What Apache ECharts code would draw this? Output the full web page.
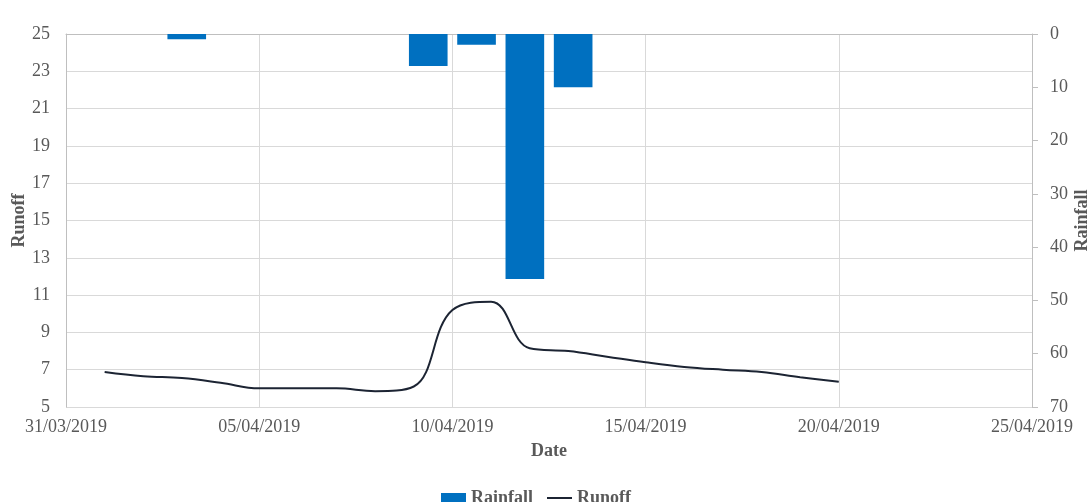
<!DOCTYPE html>
<html>
<head>
<meta charset="utf-8">
<script src="https://cdn.jsdelivr.net/npm/echarts@6/dist/echarts.min.js"></script>
<style>
html,body{margin:0;padding:0;background:#fff;}
#chart{width:1089px;height:502px;}
</style>
</head>
<body>
<div id="chart"></div>
<script>
// ---- data ----
const axisStart = '31/03/2019';
const axisEnd = '25/04/2019';
const dayStep = 5;
const runoffDates = ['01/04/2019','02/04/2019','03/04/2019','04/04/2019','05/04/2019','06/04/2019','07/04/2019','08/04/2019','09/04/2019','10/04/2019','11/04/2019','12/04/2019','13/04/2019','14/04/2019','15/04/2019','16/04/2019','17/04/2019','18/04/2019','19/04/2019','20/04/2019'];
const runoffValues = [6.88,6.65,6.55,6.3,6.0,6.0,6.0,5.85,6.1,10.2,10.65,8.15,8.0,7.7,7.4,7.15,7.0,6.88,6.6,6.35];
const rainDates = ['01/04','02/04','03/04','04/04','05/04','06/04','07/04','08/04','09/04','10/04','11/04','12/04','13/04','14/04','15/04','16/04','17/04','18/04','19/04','20/04'];
const rainValues = [0,0,1,0,0,0,0,6,2,46,10,0,0,0,0,0,0,0,0,0];
const runoffAxis = {min:5, max:25, interval:2};
const rainAxis = {min:0, max:70, interval:10};

// ---- helpers ----
function parseD(s){const p=s.split('/');return Date.UTC(+p[2],+p[1]-1,+p[0]);}
const t0 = parseD(axisStart);
const DAY = 86400000;
function dayOf(s){return Math.round((parseD(s)-t0)/DAY);}
function fmt(d){const dt=new Date(t0+d*DAY);const dd=String(dt.getUTCDate()).padStart(2,'0');const mm=String(dt.getUTCMonth()+1).padStart(2,'0');return dd+'/'+mm+'/'+dt.getUTCFullYear();}

const FONT = 'Liberation Serif';
const TXT = '#595959';
const chart = echarts.init(document.getElementById('chart'));
chart.setOption({
  animation:false,
  backgroundColor:'#fff',
  textStyle:{fontFamily:FONT},
  grid:{left:66,right:57,top:34,bottom:95,containLabel:false,outerBoundsMode:'none'},
  legend:{
    top:484, left:436,
    itemWidth:25, itemHeight:10, itemGap:13,
    textStyle:{fontFamily:FONT,fontSize:18,fontWeight:'bold',color:TXT},
    data:[{name:'Rainfall',icon:'rect'},{name:'Runoff',itemStyle:{opacity:0},lineStyle:{color:'#1c2433',width:2,opacity:1}}]
  },
  xAxis:[
    {type:'value', min:0, max:dayOf(axisEnd), interval:dayStep,
     name:'Date', nameLocation:'middle', nameGap:35, nameMoveOverlap:false,
     nameTextStyle:{fontFamily:FONT,fontSize:18,fontWeight:'bold',color:TXT},
     axisLine:{show:true,lineStyle:{color:'#bfbfbf'}},
     axisTick:{show:false},
     axisLabel:{color:TXT,fontSize:18,fontFamily:FONT,margin:11,formatter:v=>fmt(v)},
     splitLine:{show:true,lineStyle:{color:'#d9d9d9'}}},
    {type:'category', data:rainDates, boundaryGap:true, show:false, position:'top'}
  ],
  yAxis:[
    {type:'value', min:runoffAxis.min, max:runoffAxis.max, interval:runoffAxis.interval,
     name:'Runoff', nameLocation:'middle', nameGap:38, nameRotate:90, nameMoveOverlap:false,
     nameTextStyle:{fontFamily:FONT,fontSize:18,fontWeight:'bold',color:TXT},
     axisLine:{show:true,lineStyle:{color:'#bfbfbf'}},
     axisTick:{show:false},
     axisLabel:{color:TXT,fontSize:18,fontFamily:FONT,margin:16},
     splitLine:{show:true,lineStyle:{color:'#d9d9d9'}}},
    {type:'value', min:rainAxis.min, max:rainAxis.max, interval:rainAxis.interval, inverse:true,
     position:'right',
     name:'Rainfall', nameLocation:'middle', nameGap:41, nameRotate:90, nameMoveOverlap:false,
     nameTextStyle:{fontFamily:FONT,fontSize:18,fontWeight:'bold',color:TXT},
     axisLine:{show:true,lineStyle:{color:'#bfbfbf'}},
     axisTick:{show:true,length:6,lineStyle:{color:'#bfbfbf'}},
     axisLabel:{color:TXT,fontSize:18,fontFamily:FONT,margin:18},
     splitLine:{show:false}}
  ],
  series:[
    {name:'Rainfall', type:'bar', xAxisIndex:1, yAxisIndex:1,
     data:rainValues, barWidth:'80%',
     itemStyle:{color:'#0070C0'}, z:2},
    {name:'Runoff', type:'line', xAxisIndex:0, yAxisIndex:0,
     data:runoffDates.map((d,i)=>[dayOf(d),runoffValues[i]]),
     smooth:0.4, symbol:'none',
     lineStyle:{color:'#1c2433',width:2}, itemStyle:{color:'#1c2433'}, z:3}
  ]
});
</script>
</body>
</html>
